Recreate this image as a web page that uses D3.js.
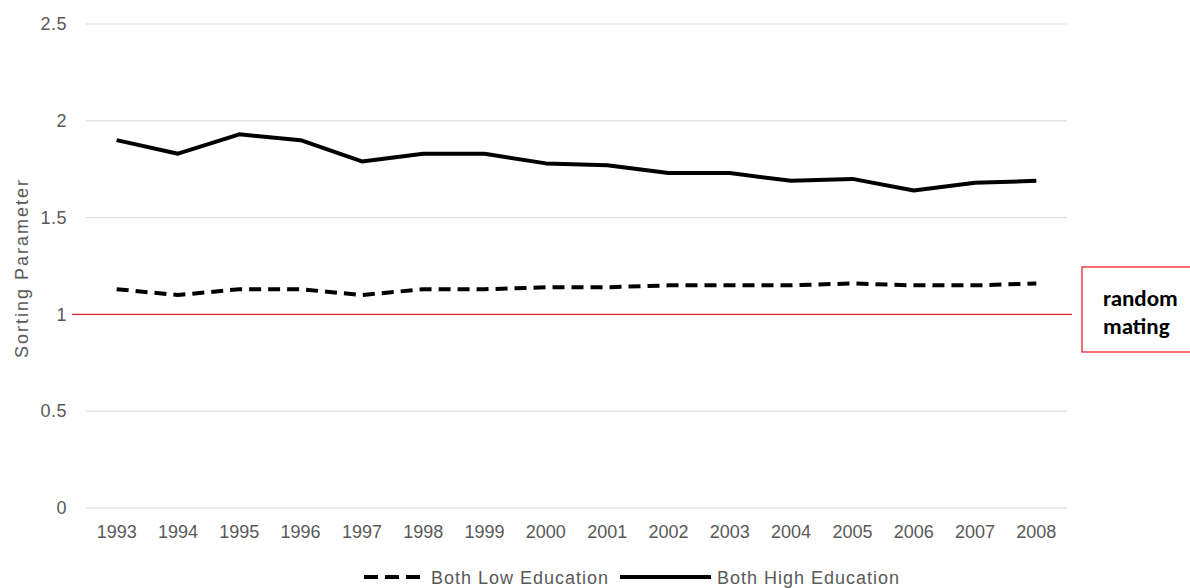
<!DOCTYPE html>
<html>
<head>
<meta charset="utf-8">
<script src="https://cdn.jsdelivr.net/npm/d3@7"></script>
<style>
  body { margin: 0; background: #fff; }
  text { font-family: Arial, "Liberation Sans", sans-serif; }
</style>
</head>
<body>
<div id="chart-area"></div>
<script>
const years = ['1993','1994','1995','1996','1997','1998','1999','2000','2001','2002','2003','2004','2005','2006','2007','2008'];
const lowEdu = [1.13, 1.10, 1.13, 1.13, 1.10, 1.13, 1.13, 1.14, 1.14, 1.15, 1.15, 1.15, 1.16, 1.15, 1.15, 1.16];
const highEdu = [1.90, 1.83, 1.93, 1.90, 1.79, 1.83, 1.83, 1.78, 1.77, 1.73, 1.73, 1.69, 1.70, 1.64, 1.68, 1.69];
const yTicks = [0, 0.5, 1, 1.5, 2, 2.5];
const randomMating = 1;

const MARGIN = { LEFT: 86, RIGHT: 123, TOP: 24, BOTTOM: 80 };
const WIDTH = 1190 - MARGIN.LEFT - MARGIN.RIGHT;
const HEIGHT = 588 - MARGIN.TOP - MARGIN.BOTTOM;

const svg = d3.select('#chart-area').append('svg')
  .attr('width', 1190)
  .attr('height', 588);

const g = svg.append('g')
  .attr('transform', `translate(${MARGIN.LEFT}, ${MARGIN.TOP})`);

const x = d3.scaleBand()
  .domain(years)
  .range([0, WIDTH]);

const y = d3.scaleLinear()
  .domain([0, 2.5])
  .range([HEIGHT, 0]);

// gridlines
g.selectAll('.grid').data(yTicks).enter().append('line')
  .attr('x1', 0).attr('x2', WIDTH)
  .attr('y1', d => y(d)).attr('y2', d => y(d))
  .attr('stroke', '#d9d9d9')
  .attr('stroke-width', 1);

// y labels
const yAxis = d3.axisLeft(y).tickValues(yTicks).tickSize(0).tickPadding(19)
  .tickFormat(d3.format('~g'));
const yg = g.append('g').call(yAxis);
yg.select('.domain').remove();
yg.selectAll('text').attr('fill', '#595959').style('font-size', '18px')
  .style('letter-spacing', '0.5px');

// x labels
const xAxis = d3.axisBottom(x).tickSize(0).tickPadding(17);
const xg = g.append('g').attr('transform', `translate(0, ${HEIGHT})`).call(xAxis);
xg.select('.domain').remove();
xg.selectAll('text').attr('fill', '#595959').style('font-size', '18px');

// random mating reference line
g.append('line')
  .attr('x1', -14).attr('x2', WIDTH + 5)
  .attr('y1', y(randomMating)).attr('y2', y(randomMating))
  .attr('stroke', '#e8262f')
  .attr('stroke-width', 1.3);

const line = d3.line()
  .x((d, i) => x(years[i]) + x.bandwidth() / 2)
  .y(d => y(d));

g.append('path').datum(lowEdu)
  .attr('d', line)
  .attr('fill', 'none')
  .attr('stroke', '#000')
  .attr('stroke-width', 4)
  .attr('stroke-dasharray', '12,7');

g.append('path').datum(highEdu)
  .attr('d', line)
  .attr('fill', 'none')
  .attr('stroke', '#000')
  .attr('stroke-width', 4)
  .attr('stroke-linejoin', 'round');

// y title
svg.append('text')
  .attr('transform', 'translate(28, 268) rotate(-90)')
  .attr('text-anchor', 'middle')
  .attr('fill', '#595959')
  .style('font-size', '18px')
  .style('letter-spacing', '2px')
  .text('Sorting Parameter');

// annotation box
const box = svg.append('g').attr('transform', 'translate(1082, 267)');
box.append('rect')
  .attr('width', 112).attr('height', 85)
  .attr('fill', '#fff')
  .attr('stroke', '#e8262f')
  .attr('stroke-width', 1.3);
box.selectAll('text').data(['random', 'mating']).enter().append('text')
  .attr('x', 21)
  .attr('y', (d, i) => 39 + i * 28)
  .attr('fill', '#000')
  .style('font-family', 'Carlito, Calibri, "Open Sans", sans-serif')
  .style('font-weight', 'bold')
  .style('font-size', '23px')
  .text(d => d);

// legend
const legend = svg.append('g').attr('transform', 'translate(0, 577)');
legend.append('line')
  .attr('x1', 364).attr('x2', 420).attr('y1', 0).attr('y2', 0)
  .attr('stroke', '#000').attr('stroke-width', 4)
  .attr('stroke-dasharray', '14,7');
legend.append('text')
  .attr('x', 431).attr('y', 7)
  .attr('fill', '#595959').style('font-size', '18px')
  .style('letter-spacing', '1px')
  .text('Both Low Education');
legend.append('line')
  .attr('x1', 620).attr('x2', 711).attr('y1', 0).attr('y2', 0)
  .attr('stroke', '#000').attr('stroke-width', 4);
legend.append('text')
  .attr('x', 717).attr('y', 7)
  .attr('fill', '#595959').style('font-size', '18px')
  .style('letter-spacing', '1px')
  .text('Both High Education');
</script>
</body>
</html>
